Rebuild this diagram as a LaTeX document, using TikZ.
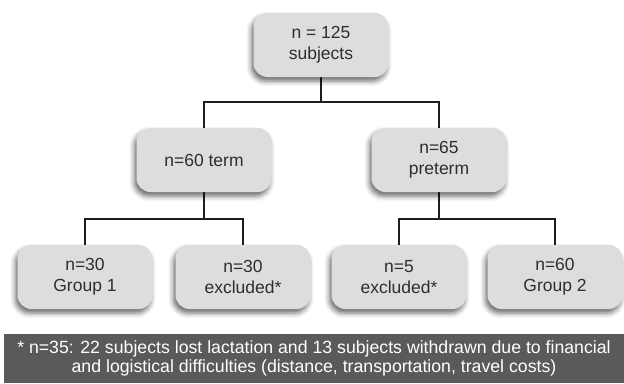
\documentclass[tikz,border=0pt]{standalone}
\usepackage{fontspec}
\setmainfont{Liberation Sans}
\usetikzlibrary{shadows.blur,backgrounds}
\definecolor{boxfill}{HTML}{DDDDDD}
\definecolor{boxtext}{HTML}{2E2E2E}
\definecolor{barfill}{HTML}{5A5A5A}
\definecolor{linecol}{HTML}{1E1E1E}
\tikzset{
  flowbox/.style={fill=boxfill, draw=none, rounded corners=14pt, minimum width=135pt, minimum height=64pt,
    align=center, text=boxtext, font=\fontsize{17.5}{21}\selectfont, inner sep=0pt,
    blur shadow={shadow xshift=-2pt, shadow yshift=-4pt, shadow blur radius=5pt, shadow opacity=60}},
  conn/.style={draw=linecol, line width=1.6pt},
  notebar/.style={fill=barfill, draw=none, text=white, align=center, font=\fontsize{17.7}{19}\selectfont,
    minimum width=620pt, minimum height=49pt, inner sep=0pt}
}
\begin{document}
\begin{tikzpicture}[x=1pt,y=-1pt]
\useasboundingbox (0,0) rectangle (624,383);
\node[flowbox] (top) at (321,45) {n = 125\\subjects};
\node[flowbox] (midL) at (204,160) {n=60 term};
\node[flowbox] (midR) at (439,160) {n=65\\preterm};
\node[flowbox] (b1) at (85,277) {n=30\\Group 1};
\node[flowbox] (b2) at (243,277) {n=30\\excluded*};
\node[flowbox] (b3) at (399,277) {n=5\\excluded*};
\node[flowbox] (b4) at (555,277) {n=60\\Group 2};
\node[notebar] (note) at (314,358.5) {* n=35: 22 subjects lost lactation and 13 subjects withdrawn due to financial\\and logistical difficulties (distance, transportation, travel costs)};
\coordinate (j0) at (321,102);
\coordinate (j1) at (204,219);
\coordinate (j2) at (439,219);
\begin{scope}[on background layer]
\draw[conn] (top.south) -- (j0);
\draw[conn] (midL.north) |- (j0) -| (midR.north);
\draw[conn] (midL.south) -- (j1);
\draw[conn] (b1.north) |- (j1) -| (b2.north);
\draw[conn] (midR.south) -- (j2);
\draw[conn] (b3.north) |- (j2) -| (b4.north);
\end{scope}
\end{tikzpicture}
\end{document}
